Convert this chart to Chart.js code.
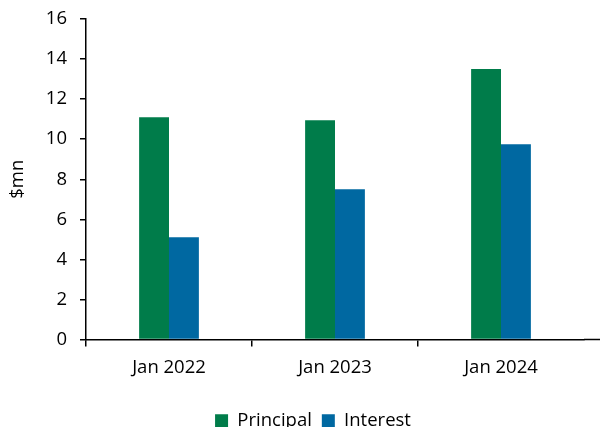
<!DOCTYPE html>
<html>
<head>
<meta charset="utf-8">
<script src="https://cdn.jsdelivr.net/npm/chart.js@4/dist/chart.umd.min.js"></script>
<style>
  html, body { margin: 0; padding: 0; background: #fff; }
  #wrap { width: 600px; height: 427px; }
</style>
</head>
<body>
<div id="wrap"><canvas id="chart"></canvas></div>
<script>
// Chart data
const categories = ['Jan 2022', 'Jan 2023', 'Jan 2024'];
const principal = [11.1, 10.95, 13.5];
const interest = [5.1, 7.5, 9.75];
const yTicks = [0, 2, 4, 6, 8, 10, 12, 14, 16];

const font = { family: "'Open Sans', sans-serif", size: 18.5 };

// extend the x axis line to the right edge, like the original
const axisExtend = {
    id: 'axisExtend',
    afterDraw(chart) {
        const ctx = chart.ctx;
        const area = chart.chartArea;
        const y = chart.scales.y.getPixelForValue(0);
        ctx.save();
        ctx.strokeStyle = '#000';
        ctx.lineWidth = 1.5;
        ctx.beginPath();
        ctx.moveTo(area.right, y);
        ctx.lineTo(chart.width, y);
        ctx.stroke();
        ctx.restore();
    }
};

new Chart(document.getElementById('chart'), {
    type: 'bar',
    data: {
        labels: categories,
        datasets: [
            { label: 'Principal', data: principal, backgroundColor: '#007c4a' },
            { label: 'Interest', data: interest, backgroundColor: '#0068a1' }
        ]
    },
    options: {
        responsive: true,
        maintainAspectRatio: false,
        animation: false,
        datasets: { bar: { barPercentage: 1, categoryPercentage: 0.36 } },
        // left padding kept wide so the legend sits right of centre, as in the original
        layout: { padding: { top: 19, right: 16, bottom: -13, left: 42 } },
        scales: {
            x: {
                grid: {
                    drawOnChartArea: false,
                    tickLength: 7,
                    lineWidth: 1.5,
                    // no tick mark at the far right end
                    color: c => (c.type === 'tick' && c.index < categories.length) ? '#000' : 'rgba(0,0,0,0)'
                },
                border: { color: '#000', width: 1.5 },
                ticks: { color: '#000', font: font, padding: 10 },
                afterFit(scale) { scale.height = 62; }
            },
            y: {
                min: 0,
                max: 16,
                afterBuildTicks(scale) { scale.ticks = yTicks.map(v => ({ value: v })); },
                grid: { drawOnChartArea: false, color: '#000', tickLength: 6, lineWidth: 1.5 },
                border: { color: '#000', width: 1.5 },
                ticks: { color: '#000', font: font, padding: 13 },
                title: { display: true, text: '$mn', color: '#000', font: font, padding: { top: -35, bottom: 0 } },
                afterFit(scale) {
                    scale.width = 44;
                    scale.paddingTop = 0;
                    scale.paddingBottom = 0;
                }
            }
        },
        plugins: {
            legend: {
                position: 'bottom',
                labels: { color: '#000', font: font, boxWidth: 13, boxHeight: 13, padding: 10 }
            },
            tooltip: { enabled: false }
        }
    },
    plugins: [axisExtend]
});
</script>
</body>
</html>
